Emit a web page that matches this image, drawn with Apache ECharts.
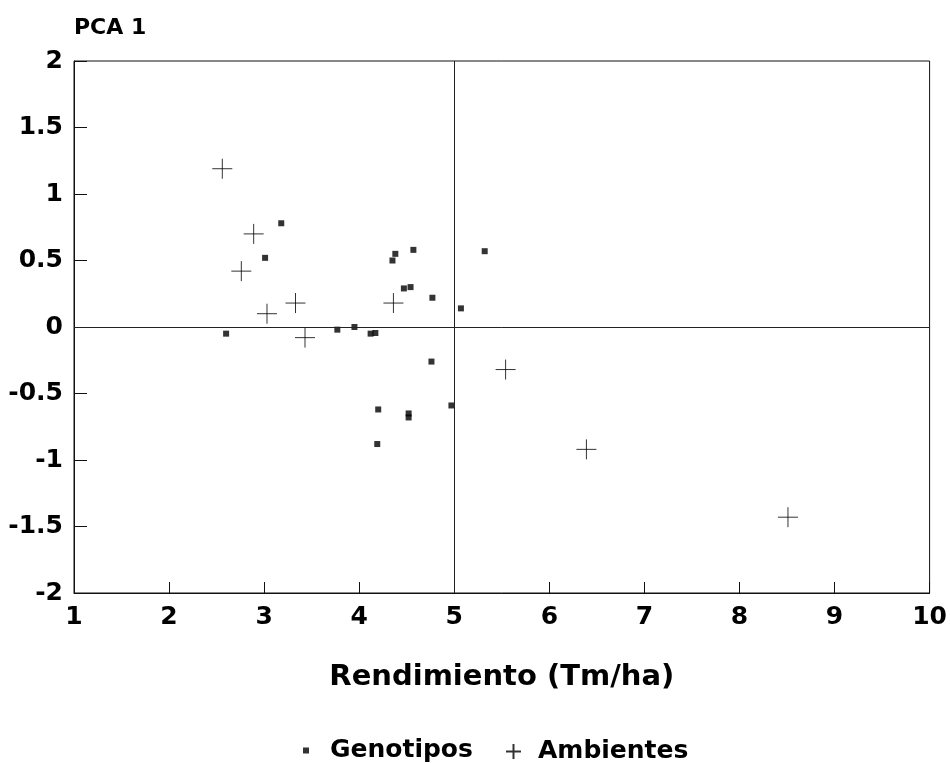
<!DOCTYPE html>
<html>
<head>
<meta charset="utf-8">
<script src="https://cdn.jsdelivr.net/npm/echarts@6/dist/echarts.min.js"></script>
<style>
  html, body { margin: 0; padding: 0; background: #fff; }
  #chart { width: 950px; height: 763px; }
</style>
</head>
<body>
<div id="chart"></div>
<script>
// Genotipos: [Rendimiento, PCA 1]
const genotiposX = [3.18, 3.01, 4.38, 4.35, 4.57, 5.32, 4.47, 4.54, 4.77, 5.07, 2.60, 3.77, 3.95, 4.12, 4.17, 4.76, 4.20, 4.52, 4.52, 4.97, 4.19];
const genotiposY = [0.78, 0.52, 0.55, 0.50, 0.58, 0.57, 0.29, 0.30, 0.22, 0.14, -0.05, -0.02, 0.00, -0.05, -0.045, -0.26, -0.62, -0.65, -0.68, -0.59, -0.88];
// Ambientes
const ambientesX = [2.56, 2.89, 2.76, 3.03, 3.33, 3.43, 4.36, 5.54, 6.39, 8.51];
const ambientesY = [1.19, 0.70, 0.42, 0.10, 0.18, -0.08, 0.18, -0.32, -0.92, -1.43];

const seriesNames = ['Genotipos', 'Ambientes'];
const xName = 'Rendimiento (Tm/ha)';
const yName = 'PCA 1';
const refX = 5;
const refY = 0;

const FONT = 'DejaVu Sans';
const crossPath = 'path://M0,10 L20,10 M10,0 L10,20';

const genData = genotiposX.map((x, i) => [x, genotiposY[i]]);
const ambData = ambientesX.map((x, i) => [x, ambientesY[i]]);

const chart = echarts.init(document.getElementById('chart'), null, { renderer: 'canvas' });
chart.setOption({
  animation: false,
  backgroundColor: '#fff',
  grid: {
    left: 74, right: 18, top: 61, bottom: 170,
    show: true, borderColor: '#111', borderWidth: 1, backgroundColor: 'transparent'
  },
  xAxis: {
    type: 'value', min: 1, max: 10, interval: 1,
    name: xName, nameLocation: 'middle', nameGap: 70,
    nameTextStyle: { fontFamily: FONT, fontWeight: 'bold', fontSize: 29, color: '#000' },
    axisLine: { show: true, onZero: false, lineStyle: { color: '#111', width: 1 } },
    axisTick: { show: true, inside: true, length: 11, lineStyle: { color: '#111', width: 1 } },
    axisLabel: { fontFamily: FONT, fontWeight: 'bold', fontSize: 25, color: '#000', margin: 12 },
    splitLine: { show: false }
  },
  yAxis: {
    type: 'value', min: -2, max: 2, interval: 0.5,
    name: yName, nameLocation: 'end', nameGap: 22,
    nameTextStyle: { fontFamily: FONT, fontWeight: 'bold', fontSize: 22, color: '#000', align: 'left' },
    axisLine: { show: true, onZero: false, lineStyle: { color: '#111', width: 1 } },
    axisTick: { show: true, inside: true, length: 13, lineStyle: { color: '#111', width: 1 } },
    axisLabel: { fontFamily: FONT, fontWeight: 'bold', fontSize: 25, color: '#000', margin: 11 },
    splitLine: { show: false }
  },
  legend: [
    {
      data: [{ name: seriesNames[0], icon: 'rect' }],
      left: 303, top: 738, padding: 0,
      itemWidth: 6, itemHeight: 6,
      textStyle: { fontFamily: FONT, fontWeight: 'bold', fontSize: 25, color: '#000', padding: [10, 0, 0, 16] }
    },
    {
      data: [{ name: seriesNames[1], icon: crossPath }],
      left: 505, top: 739, padding: 0,
      itemWidth: 15, itemHeight: 15,
      textStyle: { fontFamily: FONT, fontWeight: 'bold', fontSize: 25, color: '#000', padding: [2, 0, 0, 12] }
    }
  ],
  series: [
    {
      name: seriesNames[0], type: 'scatter', data: genData,
      symbol: 'rect', symbolSize: 6,
      itemStyle: { color: '#000' },
      markLine: {
        silent: true, symbol: 'none', animation: false,
        label: { show: false },
        lineStyle: { color: '#222', type: 'solid', width: 1 },
        data: [{ yAxis: refY }, { xAxis: refX }]
      },
      z: 3
    },
    {
      name: seriesNames[1], type: 'scatter', data: ambData,
      symbol: crossPath, symbolSize: 20,
      itemStyle: { color: 'transparent', borderColor: '#000', borderWidth: 1 },
      z: 3
    }
  ]
});
</script>
</body>
</html>
